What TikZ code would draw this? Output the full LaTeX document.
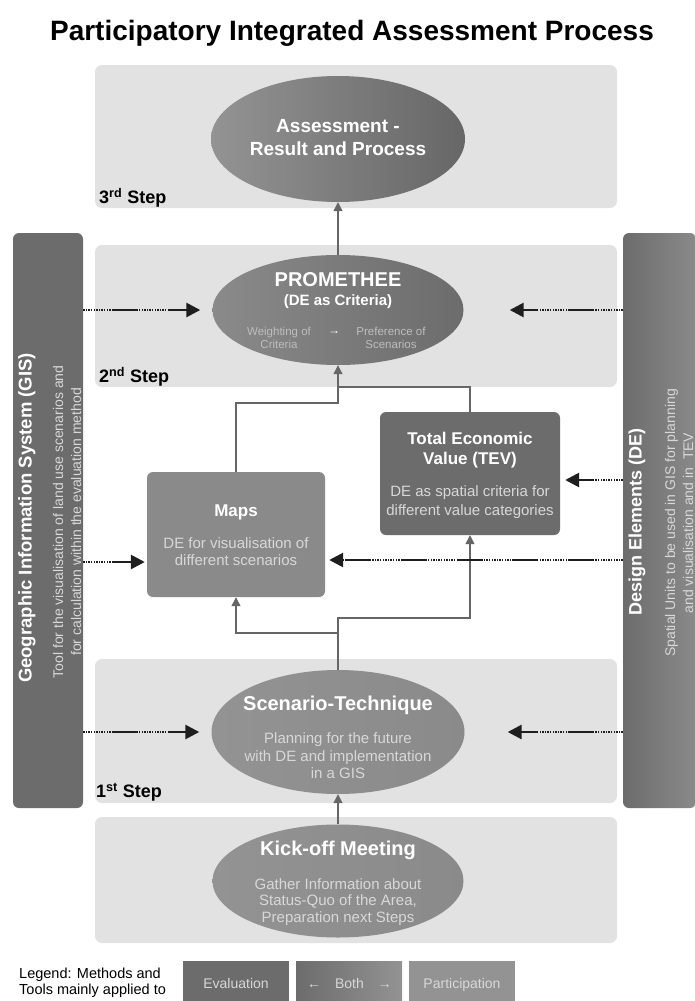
\documentclass[tikz,border=0pt]{standalone}
\usepackage{fontspec}
\setmainfont{Liberation Sans}
\usetikzlibrary{shapes.geometric,arrows.meta,calc}
\definecolor{stepbg}{HTML}{E2E2E2}
\definecolor{darkbox}{HTML}{6C6C6C}
\definecolor{midbox}{HTML}{8A8A8A}
\definecolor{lightbox}{HTML}{939393}
\definecolor{subtxt}{HTML}{D8D8D8}
\definecolor{promsub}{HTML}{BDBDBD}
\definecolor{conncol}{HTML}{666666}
\definecolor{dotcol}{HTML}{1E1E1E}
\newcommand{\fz}[2]{\fontsize{#1pt}{#2pt}\selectfont}
\tikzset{
  stepbox/.style={fill=stepbg, rounded corners=7pt},
  ell/.style={ellipse, draw=none, inner sep=0pt},
  boxnode/.style={rectangle, rounded corners=6pt, draw=none, inner sep=0pt},
  txtw/.style={text=white, align=center, inner sep=0pt},
  txts/.style={text=subtxt, align=center, inner sep=0pt},
  conn/.style={draw=conncol, line width=1.3pt},
  tip/.style={-{Triangle[length=9pt,width=9pt]}, },
  dotarrow/.style={draw=dotcol, line width=2.7pt,
    dash pattern=on 1.4pt off 1.2pt on 1.4pt off 1.2pt on 1.4pt off 1.2pt on 1.4pt off 1.2pt
      on 1.4pt off 1.2pt on 1.4pt off 1.2pt on 1.4pt off 1.2pt on 1.4pt off 1.2pt
      on 1.4pt off 1.2pt on 1.4pt off 1.2pt on 1.4pt off 1.2pt on 26pt off 1.2pt,
    -{Triangle[length=14pt,width=14pt]}},
  steplabel/.style={anchor=west, font=\bfseries\fz{18}{20}, text=black, inner sep=0pt},
  legbox/.style={rectangle, draw=none, inner sep=0pt, minimum width=106pt, minimum height=42pt, anchor=north west},
  legtxt/.style={text=subtxt, inner sep=0pt, anchor=base, font=\fz{14}{16}},
}
\begin{document}
\begin{tikzpicture}[x=1pt,y=-1pt]
\useasboundingbox (0,0) rectangle (694,1001);
\fill[white] (0,0) rectangle (694,1001);

% title
\node[font=\bfseries\fz{28}{32}, inner sep=0pt] (title) at (352,33) {Participatory Integrated Assessment Process};

% step backgrounds
\fill[stepbox] (95,65) rectangle (617,208);
\fill[stepbox] (95,245) rectangle (617,387);
\fill[stepbox] (95,659) rectangle (617,803);
\fill[stepbox] (95,817) rectangle (617,943);

% side bars
\node[boxnode, fill=darkbox, minimum width=70pt, minimum height=575pt] (gis) at (48,520.5) {};
\node[boxnode, left color=darkbox, right color=midbox, minimum width=73pt, minimum height=575pt] (de) at (659.5,520.5) {};

\node[txtw, rotate=90, font=\bfseries\fz{18.5}{20}] (gisT) at (27,518) {Geographic Information System (GIS)};
\node[txts, rotate=90, font=\fz{14}{18}] (gisS) at (67,522) {Tool for the visualisation of land use scenarios and\\for calculation within the evaluation method};
\node[txtw, rotate=90, font=\bfseries\fz{18}{20}] (deT) at (637,522) {Design Elements (DE)};
\node[txts, rotate=90, font=\fz{14}{18}] (deS) at (679,523) {Spatial Units to be used in GIS for planning\\and visualisation and in\ \ TEV};

% ellipses
\node[ell, left color=lightbox, right color=darkbox!95!black, minimum width=254pt, minimum height=126pt] (assess) at (338,139) {};
\node[txtw, font=\bfseries\fz{19}{23}] (assessT) at (338,138) {Assessment -\\Result and Process};

\node[ell, left color=midbox, right color=darkbox, minimum width=251pt, minimum height=110pt] (prom) at (338,310) {};
\node[txtw, font=\bfseries\fz{20}{22}] (promT) at (338,280) {PROMETHEE};
\node[txtw, font=\bfseries\fz{15}{17}] (promS) at (338,302) {(DE as Criteria)};
\node[txts, text=promsub, font=\fz{11.5}{13}] (promW) at (279,338) {Weighting of\\Criteria};
\node[txtw, font=\fz{12}{13}] (promA) at (334,333) {→};
\node[txts, text=promsub, font=\fz{11.5}{13}] (promP) at (391,338) {Preference of\\Scenarios};

\node[ell, left color=lightbox, right color=midbox, minimum width=253pt, minimum height=124pt] (scen) at (338,732) {};
\node[txtw, font=\bfseries\fz{20}{22}] (scenT) at (338,705) {Scenario-Technique};
\node[txts, font=\fz{15}{17.5}] (scenS) at (338,756) {Planning for the future\\with DE and implementation\\in a GIS};

\node[ell, left color=lightbox, right color=midbox, minimum width=251pt, minimum height=113pt] (kick) at (338,881) {};
\node[txtw, font=\bfseries\fz{20}{22}] (kickT) at (338,850) {Kick-off Meeting};
\node[txts, font=\fz{15}{16.5}] (kickS) at (338,902) {Gather Information about\\Status-Quo of the Area,\\Preparation next Steps};

% boxes
\node[boxnode, fill=darkbox, minimum width=180pt, minimum height=123pt] (tev) at (470,473.5) {};
\node[txtw, font=\bfseries\fz{17}{20}] (tevT) at (470,450) {Total Economic\\Value (TEV)};
\node[txts, font=\fz{15}{19}] (tevS) at (470,502.5) {DE as spatial criteria for\\different value categories};

\node[boxnode, fill=midbox, minimum width=178pt, minimum height=125pt] (maps) at (236,534.5) {};
\node[txtw, font=\bfseries\fz{17}{20}] (mapsT) at (236,512) {Maps};
\node[txts, font=\fz{15}{17}] (mapsS) at (236,551.5) {DE for visualisation of\\different scenarios};

% step labels
\node[steplabel] (s3) at (99,198) {3\textsuperscript{rd} Step};
\node[steplabel] (s2) at (99,377) {2\textsuperscript{nd} Step};
\node[steplabel] (s1) at (96,792) {1\textsuperscript{st} Step};

% junction coordinates
\coordinate (j1) at (338,403);
\coordinate (j2) at (338,387);
\coordinate (j3) at (338,618);
\coordinate (j4) at (338,633);

% solid connectors
\draw[conn, tip] (prom.north) -- (assess.south);
\draw[conn, tip] (maps.north) |- (j1) -- (prom.south);
\draw[conn] (tev.north) |- (j2);
\draw[conn, tip] (scen.north) -- (j3) -| (tev.south);
\draw[conn, tip] (j4) -| (maps.south);
\draw[conn, tip] (kick.north) -- (scen.south);

% dotted arrows
\draw[dotarrow, shorten >=12pt] (gis.east |- prom.west) -- (prom.west);
\draw[dotarrow, shorten >=46pt] (de.west |- prom.east) -- (prom.east);
\draw[dotarrow, shorten >=2pt] (gis.east |- {0,562}) -- (maps.west |- {0,562});
\draw[dotarrow, shorten >=5pt] (de.west |- {0,480}) -- (tev.east |- {0,480});
\draw[dotarrow, shorten >=4pt] (de.west |- {0,560}) -- (maps.east |- {0,560});
\draw[dotarrow, shorten >=12pt] (gis.east |- scen.west) -- (scen.west);
\draw[dotarrow, shorten >=43pt] (de.west |- scen.east) -- (scen.east);

% legend
\node[anchor=west, align=left, inner sep=0pt, font=\fz{14.5}{16}] (legT) at (19,983) {Legend: Methods and\\Tools mainly applied to};
\node[legbox, fill=darkbox] (legE) at (183,961) {};
\node[legbox, left color=darkbox, right color=lightbox] (legB) at (296,961) {};
\node[legbox, fill=lightbox] (legP) at (409,961) {};
\node[legtxt] (legEt) at (236,988) {Evaluation};
\node[legtxt] (legBt) at (349.5,988) {←\quad Both\quad →};
\node[legtxt] (legPt) at (462,988) {Participation};
\end{tikzpicture}
\end{document}
